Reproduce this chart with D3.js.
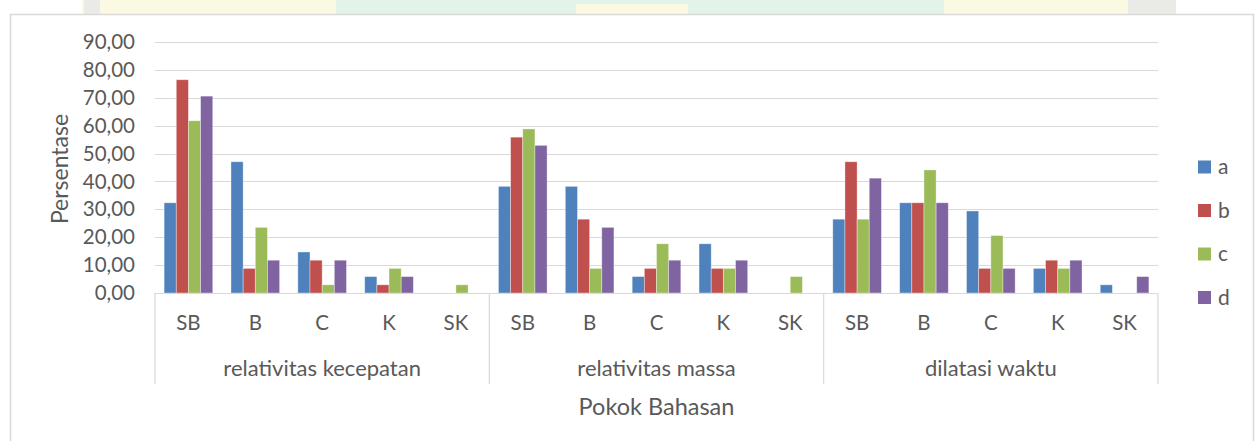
<!DOCTYPE html>
<html>
<head>
<meta charset="utf-8">
<script src="https://cdn.jsdelivr.net/npm/d3@7"></script>
<style>
  html, body { margin: 0; padding: 0; background: #ffffff; }
  svg { display: block; }
  text { font-family: Lato, "Open Sans", sans-serif; fill: #595959; }
</style>
</head>
<body>
<svg id="chart" width="1255" height="441"></svg>
<script>
// ---- data ----
const topics = ["relativitas kecepatan", "relativitas massa", "dilatasi waktu"];
const categories = ["SB", "B", "C", "K", "SK"];
const seriesNames = ["a", "b", "c", "d"];
// values per topic, in category order SB, B, C, K, SK
const seriesA = [32.35, 47.06, 14.71, 5.88, 0,   38.24, 38.24, 5.88, 17.65, 0,   26.47, 32.35, 29.41, 8.82, 2.94];
const seriesB = [76.47, 8.82, 11.76, 2.94, 0,    55.88, 26.47, 8.82, 8.82, 0,    47.06, 32.35, 8.82, 11.76, 0];
const seriesC = [61.76, 23.53, 2.94, 8.82, 2.94, 58.82, 8.82, 17.65, 8.82, 5.88, 26.47, 44.12, 20.59, 8.82, 0];
const seriesD = [70.59, 11.76, 11.76, 5.88, 0,   52.94, 23.53, 11.76, 11.76, 0,  41.18, 32.35, 8.82, 11.76, 5.88];
const yTicks = [0, 10, 20, 30, 40, 50, 60, 70, 80, 90];
const colors = ["#4F81BD", "#C0504D", "#9BBB59", "#8064A2"];
const yTitle = "Persentase";
const xTitle = "Pokok Bahasan";

const seriesValues = [seriesA, seriesB, seriesC, seriesD];

// ---- layout ----
const svg = d3.select("#chart");
const plot = { left: 155, right: 1158, top: 42, bottom: 293 };

// faint watermark strip above the chart frame
const wm = svg.append("g").attr("opacity", 0.8);
wm.append("rect").attr("x", 82).attr("y", 0).attr("width", 256).attr("height", 14).attr("fill", "#fbf8dc");
wm.append("rect").attr("x", 336).attr("y", 0).attr("width", 608).attr("height", 14).attr("fill", "#dcf1e4");
wm.append("rect").attr("x", 576).attr("y", 4).attr("width", 112).attr("height", 10).attr("fill", "#fbf8dc");
wm.append("rect").attr("x", 944).attr("y", 0).attr("width", 186).attr("height", 14).attr("fill", "#fbf8dc");
wm.append("rect").attr("x", 84).attr("y", 0).attr("width", 16).attr("height", 14).attr("fill", "#e6e6e0");
wm.append("rect").attr("x", 1128).attr("y", 0).attr("width", 48).attr("height", 14).attr("fill", "#e6e6e0");

// chart frame
svg.append("rect")
  .attr("x", 10.5).attr("y", 14.5).attr("width", 1243).attr("height", 440)
  .attr("fill", "#ffffff").attr("stroke", "#d9d9d9").attr("stroke-width", 1.5);

// scales
const keys = [];
topics.forEach(t => categories.forEach(c => keys.push(t + "|" + c)));
const x0 = d3.scaleBand().domain(keys).range([plot.left, plot.right]).padding(0);
const x1 = d3.scaleBand().domain(seriesNames).range([0, x0.bandwidth()])
  .paddingInner(0).paddingOuter(0.75);
const y = d3.scaleLinear().domain([0, 90]).range([plot.bottom, plot.top]);

// gridlines
svg.append("g").selectAll("line").data(yTicks).join("line")
  .attr("x1", plot.left).attr("x2", plot.right)
  .attr("y1", d => Math.round(y(d)) + 0.5).attr("y2", d => Math.round(y(d)) + 0.5)
  .attr("stroke", "#d9d9d9").attr("stroke-width", 1.2);

// y axis labels
const fmt = d => d3.format(".2f")(d).replace(".", ",");
const yAxis = d3.axisLeft(y).tickValues(yTicks).tickFormat(fmt).tickSize(0).tickPadding(0);
const yg = svg.append("g").attr("transform", `translate(${135},0)`).call(yAxis);
yg.select(".domain").remove();
yg.selectAll("text").attr("font-size", 20.5).style("font-family", "Lato, sans-serif").attr("fill", "#595959");

// bars
const rows = keys.map((k, i) => ({ key: k, vals: seriesValues.map((s, j) => ({ name: seriesNames[j], v: s[i], j })) }));
const bg = svg.append("g");
rows.forEach(r => {
  bg.append("g").attr("transform", `translate(${x0(r.key)},0)`)
    .selectAll("rect").data(r.vals.filter(d => d.v > 0)).join("rect")
    .attr("x", d => x1(d.name))
    .attr("y", d => y(d.v))
    .attr("width", x1.bandwidth())
    .attr("height", d => y(0) - y(d.v))
    .attr("fill", d => colors[d.j])
    .attr("stroke", "rgba(255,255,255,0.45)").attr("stroke-width", 0.8);
});

// x axis line
svg.append("line").attr("x1", plot.left).attr("x2", plot.right)
  .attr("y1", plot.bottom + 0.5).attr("y2", plot.bottom + 0.5)
  .attr("stroke", "#d9d9d9").attr("stroke-width", 1.2);

// group separators
const groupW = (plot.right - plot.left) / topics.length;
const seps = d3.range(topics.length + 1).map(i => plot.left + i * groupW);
svg.append("g").selectAll("line").data(seps).join("line")
  .attr("x1", d => d).attr("x2", d => d)
  .attr("y1", plot.bottom).attr("y2", 384)
  .attr("stroke", "#d9d9d9").attr("stroke-width", 1.2);

// category labels
const xAxis = d3.axisBottom(x0).tickFormat(k => k.split("|")[1]).tickSize(0).tickPadding(0);
const xg = svg.append("g").attr("transform", `translate(0,${323})`).call(xAxis);
xg.select(".domain").remove();
xg.selectAll("text").attr("font-size", 20.5).attr("dy", "0.35em").attr("y", 0).style("font-family", "Lato, sans-serif").attr("fill", "#595959");

// topic labels
svg.append("g").selectAll("text").data(topics).join("text")
  .attr("x", (d, i) => plot.left + (i + 0.5) * groupW)
  .attr("y", 368).attr("dy", "0.35em")
  .attr("text-anchor", "middle").attr("font-size", 22)
  .text(d => d);

// axis titles
svg.append("text").attr("x", (plot.left + plot.right) / 2).attr("y", 407).attr("dy", "0.35em")
  .attr("text-anchor", "middle").attr("font-size", 23.5).text(xTitle);
svg.append("text").attr("transform", `translate(60,169) rotate(-90)`).attr("dy", "0.35em")
  .attr("text-anchor", "middle").attr("font-size", 23).text(yTitle);

// legend
const lg = svg.append("g").selectAll("g").data(seriesNames).join("g")
  .attr("transform", (d, i) => `translate(1198,${167 + i * 43.5})`);
lg.append("rect").attr("x", 0).attr("y", -6.5).attr("width", 13).attr("height", 13)
  .attr("fill", (d, i) => colors[i]);
lg.append("text").attr("x", 20).attr("y", 0).attr("dy", "0.35em").attr("font-size", 21).text(d => d);
</script>
</body>
</html>
